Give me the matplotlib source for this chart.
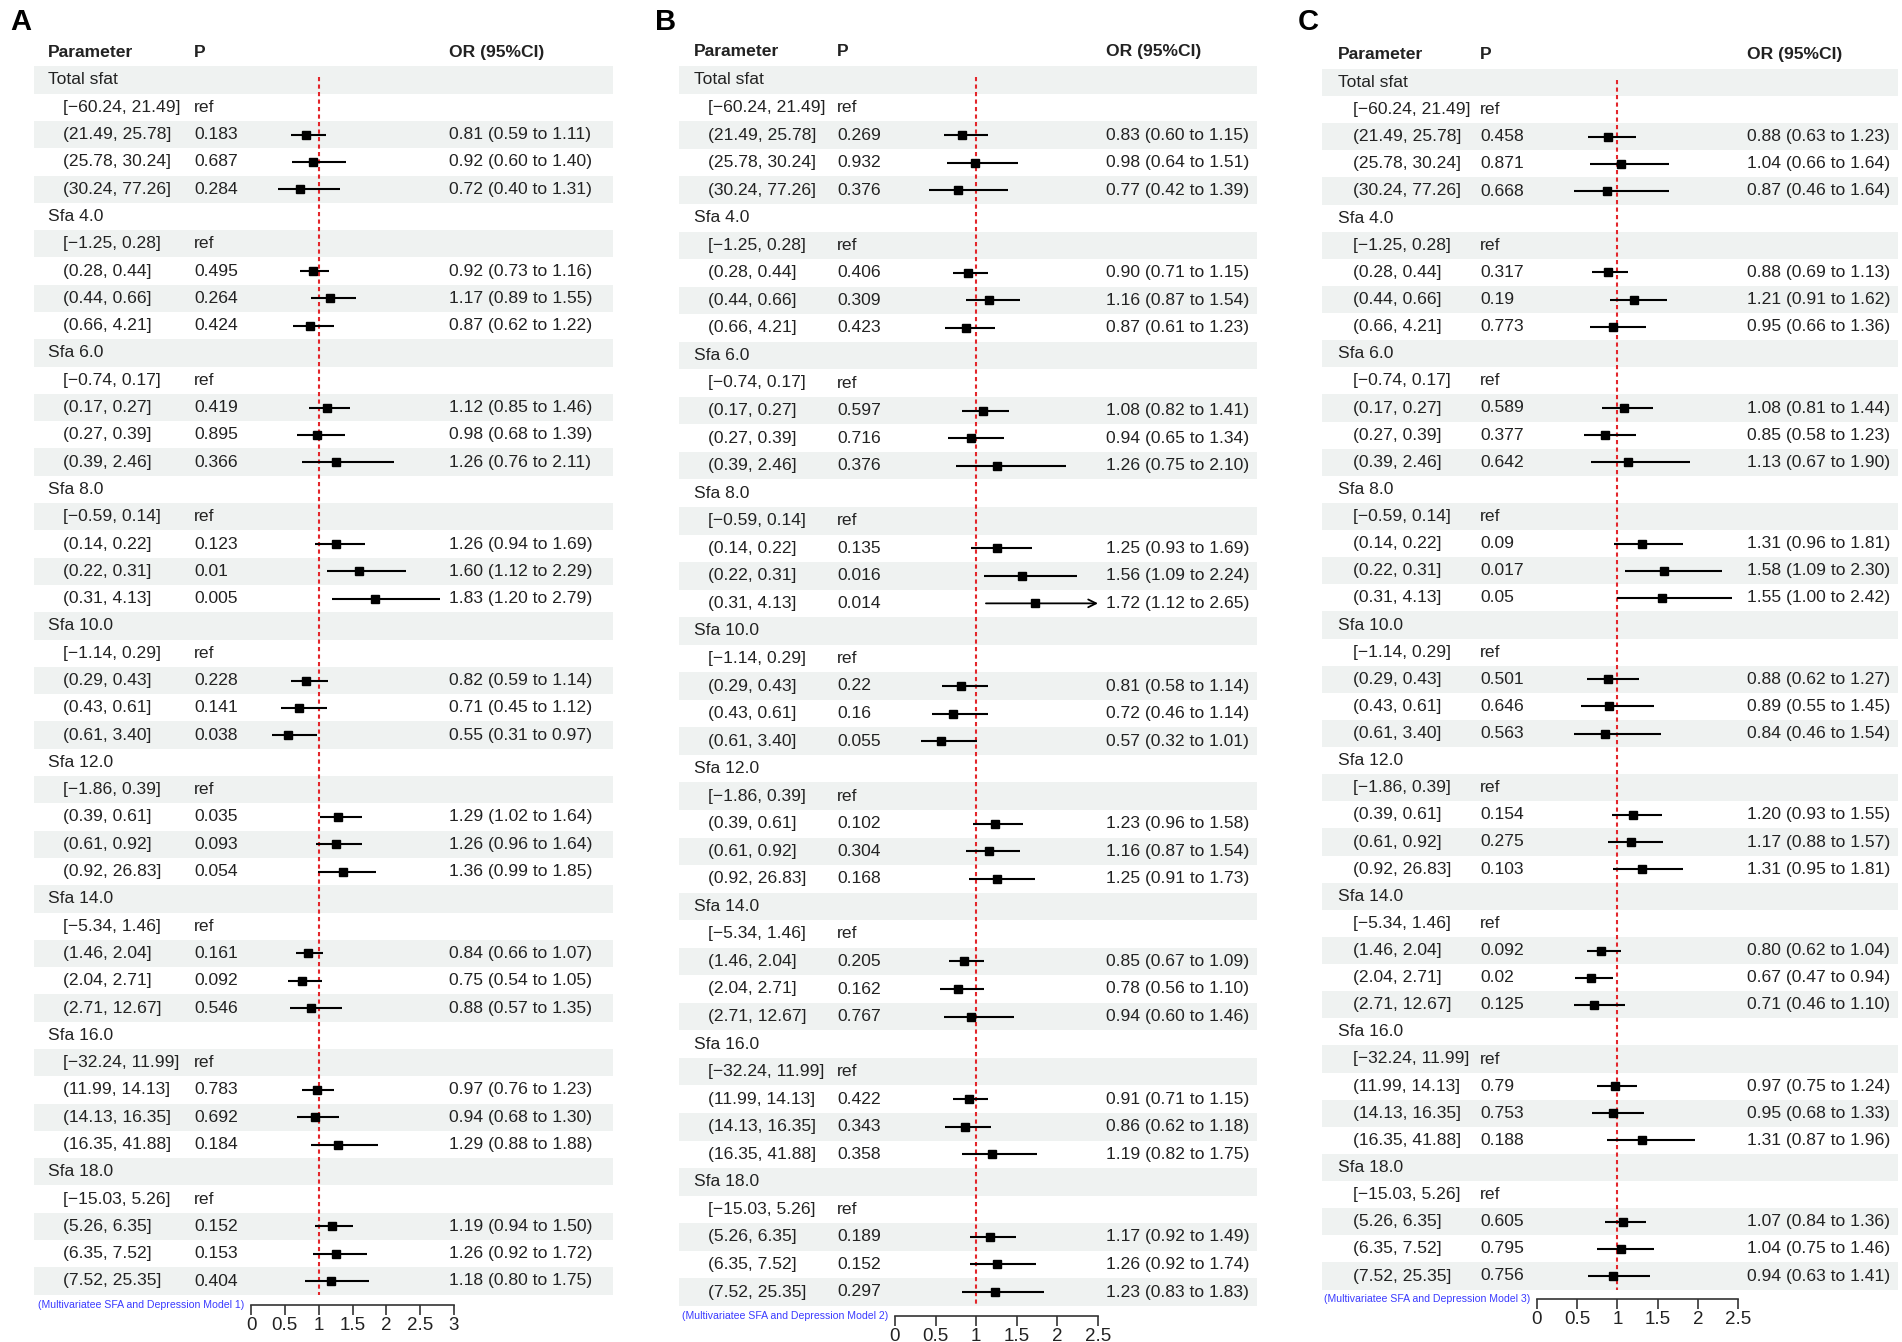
import matplotlib.pyplot as plt
import numpy as np

plt.rcParams['font.family'] = ['Liberation Sans', 'DejaVu Sans']

W, H = 1902, 1342
SHADE = '#eff2f1'
TXT = '#222222'
FS = 12.6

groups = ['Total sfat', 'Sfa 4.0', 'Sfa 6.0', 'Sfa 8.0', 'Sfa 10.0',
          'Sfa 12.0', 'Sfa 14.0', 'Sfa 16.0', 'Sfa 18.0']
quartiles = [
    ['[\u221260.24, 21.49]', '(21.49, 25.78]', '(25.78, 30.24]', '(30.24, 77.26]'],
    ['[\u22121.25, 0.28]', '(0.28, 0.44]', '(0.44, 0.66]', '(0.66, 4.21]'],
    ['[\u22120.74, 0.17]', '(0.17, 0.27]', '(0.27, 0.39]', '(0.39, 2.46]'],
    ['[\u22120.59, 0.14]', '(0.14, 0.22]', '(0.22, 0.31]', '(0.31, 4.13]'],
    ['[\u22121.14, 0.29]', '(0.29, 0.43]', '(0.43, 0.61]', '(0.61, 3.40]'],
    ['[\u22121.86, 0.39]', '(0.39, 0.61]', '(0.61, 0.92]', '(0.92, 26.83]'],
    ['[\u22125.34, 1.46]', '(1.46, 2.04]', '(2.04, 2.71]', '(2.71, 12.67]'],
    ['[\u221232.24, 11.99]', '(11.99, 14.13]', '(14.13, 16.35]', '(16.35, 41.88]'],
    ['[\u221215.03, 5.26]', '(5.26, 6.35]', '(6.35, 7.52]', '(7.52, 25.35]'],
]

# model 1
p_m1 = [['0.183', '0.687', '0.284'], ['0.495', '0.264', '0.424'], ['0.419', '0.895', '0.366'],
        ['0.123', '0.01', '0.005'], ['0.228', '0.141', '0.038'], ['0.035', '0.093', '0.054'],
        ['0.161', '0.092', '0.546'], ['0.783', '0.692', '0.184'], ['0.152', '0.153', '0.404']]
or_m1 = [[0.81, 0.92, 0.72], [0.92, 1.17, 0.87], [1.12, 0.98, 1.26], [1.26, 1.60, 1.83],
         [0.82, 0.71, 0.55], [1.29, 1.26, 1.36], [0.84, 0.75, 0.88], [0.97, 0.94, 1.29],
         [1.19, 1.26, 1.18]]
lo_m1 = [[0.59, 0.60, 0.40], [0.73, 0.89, 0.62], [0.85, 0.68, 0.76], [0.94, 1.12, 1.20],
         [0.59, 0.45, 0.31], [1.02, 0.96, 0.99], [0.66, 0.54, 0.57], [0.76, 0.68, 0.88],
         [0.94, 0.92, 0.80]]
hi_m1 = [[1.11, 1.40, 1.31], [1.16, 1.55, 1.22], [1.46, 1.39, 2.11], [1.69, 2.29, 2.79],
         [1.14, 1.12, 0.97], [1.64, 1.64, 1.85], [1.07, 1.05, 1.35], [1.23, 1.30, 1.88],
         [1.50, 1.72, 1.75]]

# model 2
p_m2 = [['0.269', '0.932', '0.376'], ['0.406', '0.309', '0.423'], ['0.597', '0.716', '0.376'],
        ['0.135', '0.016', '0.014'], ['0.22', '0.16', '0.055'], ['0.102', '0.304', '0.168'],
        ['0.205', '0.162', '0.767'], ['0.422', '0.343', '0.358'], ['0.189', '0.152', '0.297']]
or_m2 = [[0.83, 0.98, 0.77], [0.90, 1.16, 0.87], [1.08, 0.94, 1.26], [1.25, 1.56, 1.72],
         [0.81, 0.72, 0.57], [1.23, 1.16, 1.25], [0.85, 0.78, 0.94], [0.91, 0.86, 1.19],
         [1.17, 1.26, 1.23]]
lo_m2 = [[0.60, 0.64, 0.42], [0.71, 0.87, 0.61], [0.82, 0.65, 0.75], [0.93, 1.09, 1.12],
         [0.58, 0.46, 0.32], [0.96, 0.87, 0.91], [0.67, 0.56, 0.60], [0.71, 0.62, 0.82],
         [0.92, 0.92, 0.83]]
hi_m2 = [[1.15, 1.51, 1.39], [1.15, 1.54, 1.23], [1.41, 1.34, 2.10], [1.69, 2.24, 2.65],
         [1.14, 1.14, 1.01], [1.58, 1.54, 1.73], [1.09, 1.10, 1.46], [1.15, 1.18, 1.75],
         [1.49, 1.74, 1.83]]

# model 3
p_m3 = [['0.458', '0.871', '0.668'], ['0.317', '0.19', '0.773'], ['0.589', '0.377', '0.642'],
        ['0.09', '0.017', '0.05'], ['0.501', '0.646', '0.563'], ['0.154', '0.275', '0.103'],
        ['0.092', '0.02', '0.125'], ['0.79', '0.753', '0.188'], ['0.605', '0.795', '0.756']]
or_m3 = [[0.88, 1.04, 0.87], [0.88, 1.21, 0.95], [1.08, 0.85, 1.13], [1.31, 1.58, 1.55],
         [0.88, 0.89, 0.84], [1.20, 1.17, 1.31], [0.80, 0.67, 0.71], [0.97, 0.95, 1.31],
         [1.07, 1.04, 0.94]]
lo_m3 = [[0.63, 0.66, 0.46], [0.69, 0.91, 0.66], [0.81, 0.58, 0.67], [0.96, 1.09, 1.00],
         [0.62, 0.55, 0.46], [0.93, 0.88, 0.95], [0.62, 0.47, 0.46], [0.75, 0.68, 0.87],
         [0.84, 0.75, 0.63]]
hi_m3 = [[1.23, 1.64, 1.64], [1.13, 1.62, 1.36], [1.44, 1.23, 1.90], [1.81, 2.30, 2.42],
         [1.27, 1.45, 1.54], [1.55, 1.57, 1.81], [1.04, 0.94, 1.10], [1.24, 1.33, 1.96],
         [1.36, 1.46, 1.41]]

x_max = [3.0, 2.5, 2.5]

# layout of each panel, in pixels of the final image
layouts = [
    dict(letter=(10, 22), shade=(34, 613), row0=80, rowN=1281, name=48, sub=63,
         pcol=194, orcol=449, ax0=251, ax1=454, offset=10),
    dict(letter=(655, 22), shade=(679, 1257), row0=80, rowN=1292, name=694, sub=708,
         pcol=837, orcol=1106, ax0=895, ax1=1098, offset=10),
    dict(letter=(1298, 22), shade=(1322, 1898), row0=82.5, rowN=1276, name=1338, sub=1353,
         pcol=1480, orcol=1747, ax0=1537, ax1=1738, offset=9),
]

fig = plt.figure(figsize=(W / 100, H / 100), dpi=100)


def draw_panel(letter, pv, orv, lo, hi, xmax, model, lay):
    n = 5 * len(groups)
    pitch = (lay['rowN'] - lay['row0']) / (n - 1)
    top = lay['row0'] - pitch / 2
    bot = lay['rowN'] + pitch / 2
    s0, s1 = lay['shade']

    # table part
    tab = fig.add_axes([s0 / W, 1 - bot / H, (s1 - s0) / W, (bot - top) / H])
    tab.set_xlim(s0, s1)
    tab.set_ylim(n - 0.5, -0.5)
    tab.axis('off')
    for r in range(0, n, 2):
        tab.axhspan(r - 0.5, r + 0.5, color=SHADE, lw=0)

    hy = -1.02
    for xx, label in [(lay['name'], 'Parameter'), (lay['pcol'], 'P'), (lay['orcol'], 'OR (95%CI)')]:
        tab.text(xx, hy, label, fontsize=FS, fontweight='bold', va='center', color=TXT)

    # forest part
    fax = fig.add_axes([lay['ax0'] / W, 1 - bot / H, (lay['ax1'] - lay['ax0']) / W, (bot - top) / H])
    fax.set_xlim(0, xmax)
    fax.set_ylim(n - 0.5, -0.5)
    fax.patch.set_alpha(0)
    for side in ['top', 'left', 'right']:
        fax.spines[side].set_visible(False)
    fax.spines['bottom'].set_position(('outward', lay['offset'] * 0.72))
    fax.spines['bottom'].set_color('#333333')
    fax.spines['bottom'].set_linewidth(1.2)
    ticks = np.arange(0, xmax + 0.01, 0.5)
    fax.set_xticks(ticks)
    fax.set_xticklabels(['%g' % t for t in ticks], fontsize=13.5, color=TXT)
    fax.tick_params(axis='x', direction='out', length=7.5, width=1.2, color='#333333', pad=1.5)
    fax.set_yticks([])

    fax.vlines(1, -0.1, n - 0.5, color='#e3262b', lw=1.5, linestyles=(0, (2, 1.6)), zorder=1)

    for g, gname in enumerate(groups):
        r = 5 * g
        tab.text(lay['name'], r, gname, fontsize=FS, va='center', color=TXT)
        tab.text(lay['sub'], r + 1, quartiles[g][0], fontsize=FS, va='center', color=TXT)
        tab.text(lay['pcol'], r + 1, 'ref', fontsize=FS, va='center', color=TXT)
        for k in range(3):
            y = r + 2 + k
            tab.text(lay['sub'], y, quartiles[g][k + 1], fontsize=FS, va='center', color=TXT)
            tab.text(lay['pcol'], y, pv[g][k], fontsize=FS, va='center', color=TXT)
            tab.text(lay['orcol'], y, '%.2f (%.2f to %.2f)' % (orv[g][k], lo[g][k], hi[g][k]),
                     fontsize=FS, va='center', color=TXT)
            if hi[g][k] > xmax:
                fax.annotate('', xy=(xmax, y), xytext=(lo[g][k], y),
                             arrowprops=dict(arrowstyle='->', lw=1.3, color='black',
                                             shrinkA=0, shrinkB=0, mutation_scale=14),
                             annotation_clip=False, zorder=2)
            else:
                fax.hlines(y, lo[g][k], hi[g][k], color='black', lw=1.5, zorder=2)
            fax.plot(orv[g][k], y, marker='s', color='black', markersize=5.5, zorder=3,
                     clip_on=False)

    axis_y = bot + lay['offset']
    fig.text((lay['ax0'] - 7) / W, 1 - axis_y / H,
             '(Multivariatee SFA and Depression Model %d)' % model,
             fontsize=7.6, color='#3b3bff', ha='right', va='center')
    fig.text(lay['letter'][0] / W, 1 - lay['letter'][1] / H, letter,
             fontsize=21, fontweight='bold', ha='left', va='center', color='black')


draw_panel('A', p_m1, or_m1, lo_m1, hi_m1, x_max[0], 1, layouts[0])
draw_panel('B', p_m2, or_m2, lo_m2, hi_m2, x_max[1], 2, layouts[1])
draw_panel('C', p_m3, or_m3, lo_m3, hi_m3, x_max[2], 3, layouts[2])

plt.savefig('out.png', dpi=100)
